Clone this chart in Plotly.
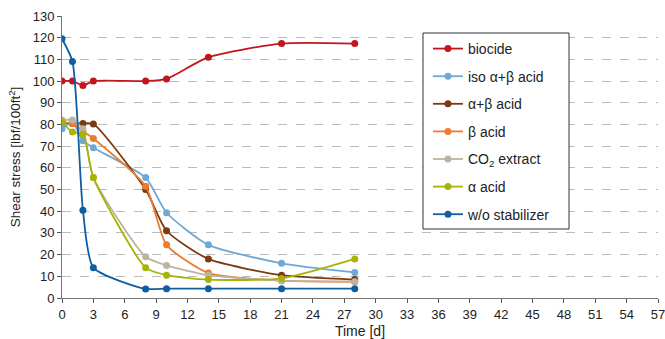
import plotly.graph_objects as go

days = [0, 1, 2, 3, 8, 10, 14, 21, 28]

biocide = [100, 100, 98, 100, 100, 101, 111, 117.3, 117.3]
iso_ab = [78, 81, 72.5, 69.3, 55.5, 39.3, 24.5, 16, 11.8]
ab_acid = [81, 80.5, 80.5, 80.2, 50, 31, 18, 10.5, 8.5]
b_acid = [81, 80.5, 77, 73.5, 51.5, 24.5, 11.5, 8, 7.5]
co2 = [82, 82, 78, 55.5, 19, 15, 10.5, 8, 7.5]
a_acid = [81, 76.5, 75.5, 55.5, 14, 10.5, 8.5, 9, 18]
wo_stab = [119.5, 109, 40.5, 14, 4.2, 4.3, 4.3, 4.3, 4.3]

series = [
    ("biocide", biocide, "#C0161E"),
    ("iso α+β acid", iso_ab, "#6EA8D8"),
    ("α+β acid", ab_acid, "#7A3A12"),
    ("β acid", b_acid, "#EE7A30"),
    ("CO<sub>2</sub> extract", co2, "#BDB49F"),
    ("α acid", a_acid, "#A6B406"),
    ("w/o stabilizer", wo_stab, "#105EA0"),
]

x_ticks = list(range(0, 58, 3))
y_ticks = list(range(0, 131, 10))

fig = go.Figure()
for i, (name, vals, col) in enumerate(series):
    fig.add_trace(go.Scatter(
        x=days, y=vals, name=name, mode="lines+markers", legendgroup=f"g{i}",
        line=dict(color=col, width=1.8, shape="spline", smoothing=0.6),
        marker=dict(color=col, size=7),
    ))

# legend frame (wider than plotly's auto box)
fig.add_shape(type="rect", xref="paper", yref="paper",
              x0=0.6057, x1=0.8507, y0=0.2447, y1=0.9397,
              line=dict(color="#333", width=1), fillcolor="white", layer="above")

fig.update_layout(
    width=665, height=339,
    margin=dict(l=62, r=7, t=16, b=41),
    paper_bgcolor="white", plot_bgcolor="white",
    font=dict(family="Liberation Sans, Arial", size=13, color="#222"),
    showlegend=True,
    legend=dict(
        x=0.614, y=0.9397, xanchor="left", yanchor="top",
        borderwidth=0, bgcolor="rgba(0,0,0,0)",
        font=dict(size=14), tracegroupgap=6.4, itemwidth=30,
    ),
    xaxis=dict(
        range=[0, 57], tickvals=x_ticks, ticks="outside", ticklen=4,
        tickcolor="#555", showline=True, linecolor="#777", linewidth=1,
        showgrid=False, zeroline=False, ticklabeloverflow="allow",
        automargin=False,
        title=dict(text="Time [d]", font=dict(size=14), standoff=8),
        tickfont=dict(size=13),
    ),
    yaxis=dict(
        range=[0, 130], tickvals=y_ticks, ticks="outside", ticklen=4,
        tickcolor="#555", showline=True, linecolor="#777", linewidth=1,
        showgrid=True, gridcolor="#BBBBBB", griddash="dash", gridwidth=1,
        zeroline=False, automargin=False,
        title=dict(text="Shear stress [lbf/100ft<sup>2</sup>]", font=dict(size=13.5), standoff=8),
        tickfont=dict(size=13),
    ),
)

fig.write_html("out.html")
